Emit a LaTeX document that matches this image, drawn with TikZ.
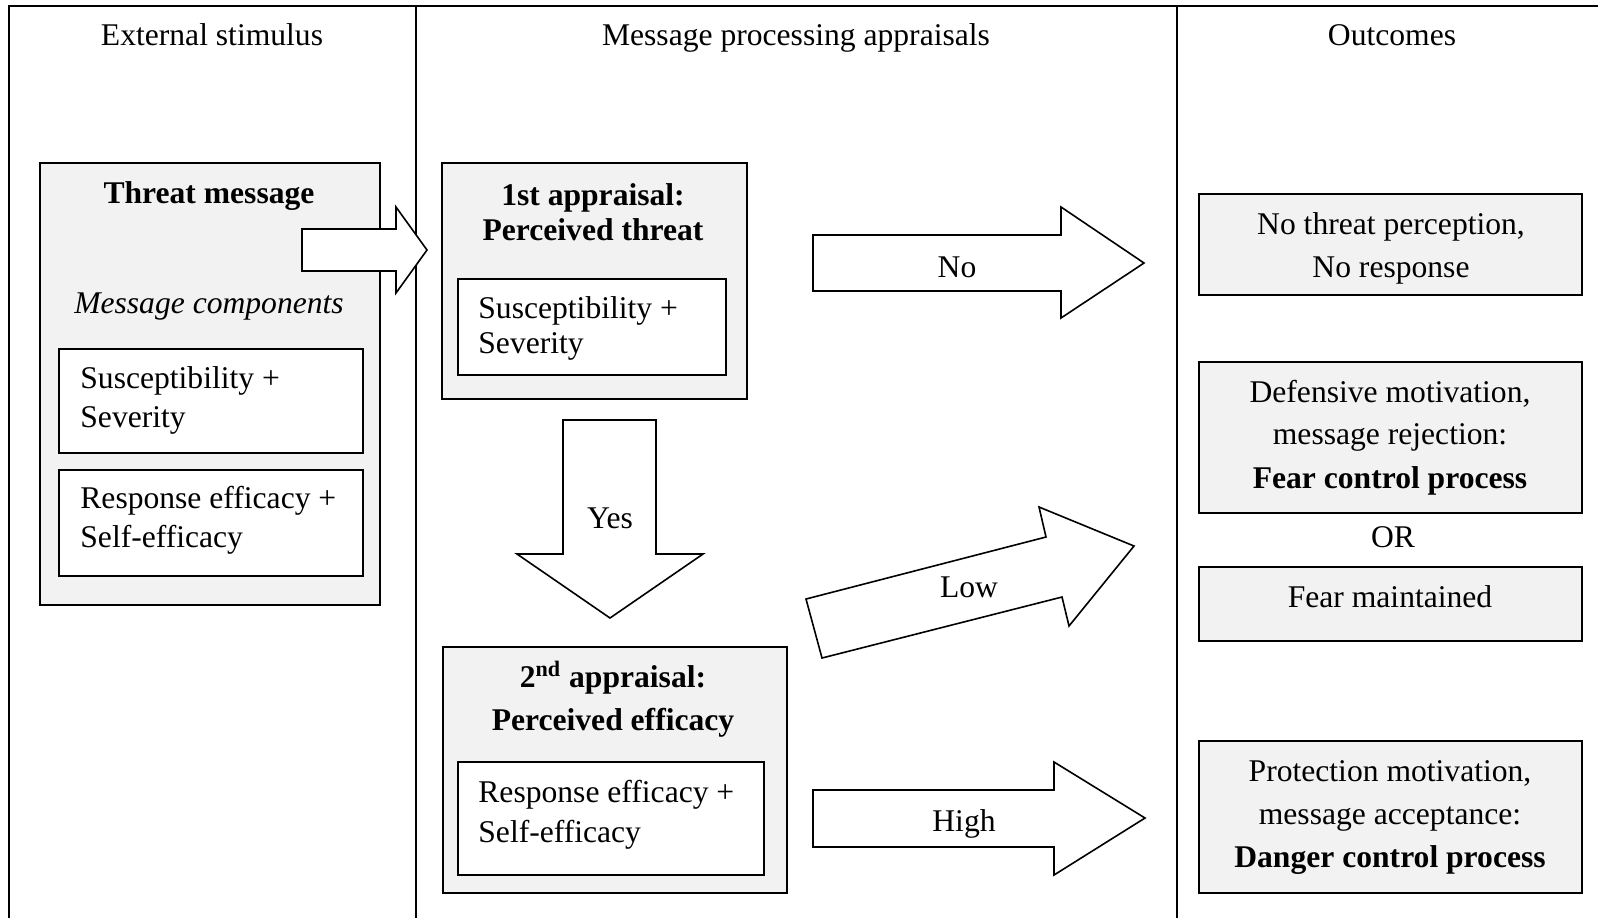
\documentclass[tikz,border=0pt]{standalone}
\usepackage{fontspec}
\setmainfont{Liberation Serif}
\usetikzlibrary{fit}
\definecolor{boxgray}{HTML}{F2F2F2}
\begin{document}
\begin{tikzpicture}[x=0.5pt,y=-0.5pt,
  txt/.style={inner sep=0pt,anchor=base,font=\fontsize{15.8pt}{19pt}\selectfont},
  ltxt/.style={txt,anchor=base west},
  frameline/.style={line width=1pt},
  gbox/.style={draw,line width=0.8pt,fill=boxgray,inner sep=0pt},
  wbox/.style={draw,line width=0.8pt,fill=white,inner sep=0pt},
  blockarrow/.style={draw,line width=0.8pt,fill=white,line join=miter}]
\useasboundingbox (0,0) rectangle (1598,918);
% frame
\coordinate (ftl) at (9,6);
\coordinate (ftr) at (1598,6);
\coordinate (fbl) at (9,918);
\draw[frameline] (fbl) -- (ftl) -- (ftr);
\coordinate (d1t) at (416,6); \coordinate (d1b) at (416,918);
\coordinate (d2t) at (1177,6); \coordinate (d2b) at (1177,918);
\draw[frameline] (d1t) -- (d1b);
\draw[frameline] (d2t) -- (d2b);
% headers
\node[txt] (h1) at (212,45) {External stimulus};
\node[txt] (h2) at (796,45) {Message processing appraisals};
\node[txt] (h3) at (1392,45) {Outcomes};
% threat message
\node[gbox,fit={(40,163) (380,605)}] (tm) {};
\node[txt] (tmt) at (209,203) {\bfseries Threat message};
\node[txt] (tmc) at (209,313) {\itshape Message components};
\node[wbox,fit={(59,349) (363,453)}] (tm1) {};
\node[ltxt] (tm1a) at (80,388) {Susceptibility +};
\node[ltxt] (tm1b) at (80,427) {Severity};
\node[wbox,fit={(59,470) (363,576)}] (tm2) {};
\node[ltxt] (tm2a) at (80,508) {Response efficacy +};
\node[ltxt] (tm2b) at (80,547) {Self-efficacy};
% 1st appraisal
\node[gbox,fit={(442,163) (747,399)}] (a1) {};
\node[txt] (a1t) at (593,205) {\bfseries 1st appraisal:};
\node[txt] (a1u) at (593,240) {\bfseries Perceived threat};
\node[wbox,fit={(458,279) (726,375)}] (a1i) {};
\node[ltxt] (a1ia) at (478,318) {Susceptibility +};
\node[ltxt] (a1ib) at (478,353) {Severity};
% 2nd appraisal
\node[gbox,fit={(443,647) (787,893)}] (a2) {};
\node[txt] (a2t) at (613,687) {\bfseries 2\textsuperscript{nd} appraisal:};
\node[txt] (a2u) at (613,730) {\bfseries Perceived efficacy};
\node[wbox,fit={(458,762) (764,875)}] (a2i) {};
\node[ltxt] (a2ia) at (478,802) {Response efficacy +};
\node[ltxt] (a2ib) at (478,842) {Self-efficacy};
% outcomes
\node[gbox,fit={(1199,194) (1582,295)}] (o1) {};
\node[txt] (o1a) at (1391,234) {No threat perception,};
\node[txt] (o1b) at (1391,277) {No response};
\node[gbox,fit={(1199,362) (1582,513)}] (o2) {};
\node[txt] (o2a) at (1390,402) {Defensive motivation,};
\node[txt] (o2b) at (1390,444) {message rejection:};
\node[txt] (o2c) at (1390,488) {\bfseries Fear control process};
\node[txt] (or) at (1393,547) {OR};
\node[gbox,fit={(1199,567) (1582,641)}] (o3) {};
\node[txt] (o3a) at (1390,607) {Fear maintained};
\node[gbox,fit={(1199,741) (1582,893)}] (o4) {};
\node[txt] (o4a) at (1390,781) {Protection motivation,};
\node[txt] (o4b) at (1390,824) {message acceptance:};
\node[txt] (o4c) at (1390,867) {\bfseries Danger control process};
% block arrows
\draw[blockarrow] (302,229) -- (396,229) -- (396,207) -- (427,250) -- (396,293) -- (396,271) -- (302,271) -- cycle;
\draw[blockarrow] (813,235) -- (1061,235) -- (1061,207) -- (1144,263) -- (1061,318) -- (1061,291) -- (813,291) -- cycle;
\node[txt] (no) at (957,277) {No};
\draw[blockarrow] (563,420) -- (656,420) -- (656,554) -- (703,554) -- (610,618) -- (517,554) -- (563,554) -- cycle;
\node[txt] (yes) at (610,528) {Yes};
\draw[blockarrow] (806,599) -- (1046,537) -- (1039,507) -- (1134,546) -- (1069,626) -- (1062,597) -- (822,658) -- cycle;
\node[txt] (low) at (969,597) {Low};
\draw[blockarrow] (813,790) -- (1054,790) -- (1054,762) -- (1145,818) -- (1054,875) -- (1054,847) -- (813,847) -- cycle;
\node[txt] (high) at (964,831) {High};
\end{tikzpicture}
\end{document}
